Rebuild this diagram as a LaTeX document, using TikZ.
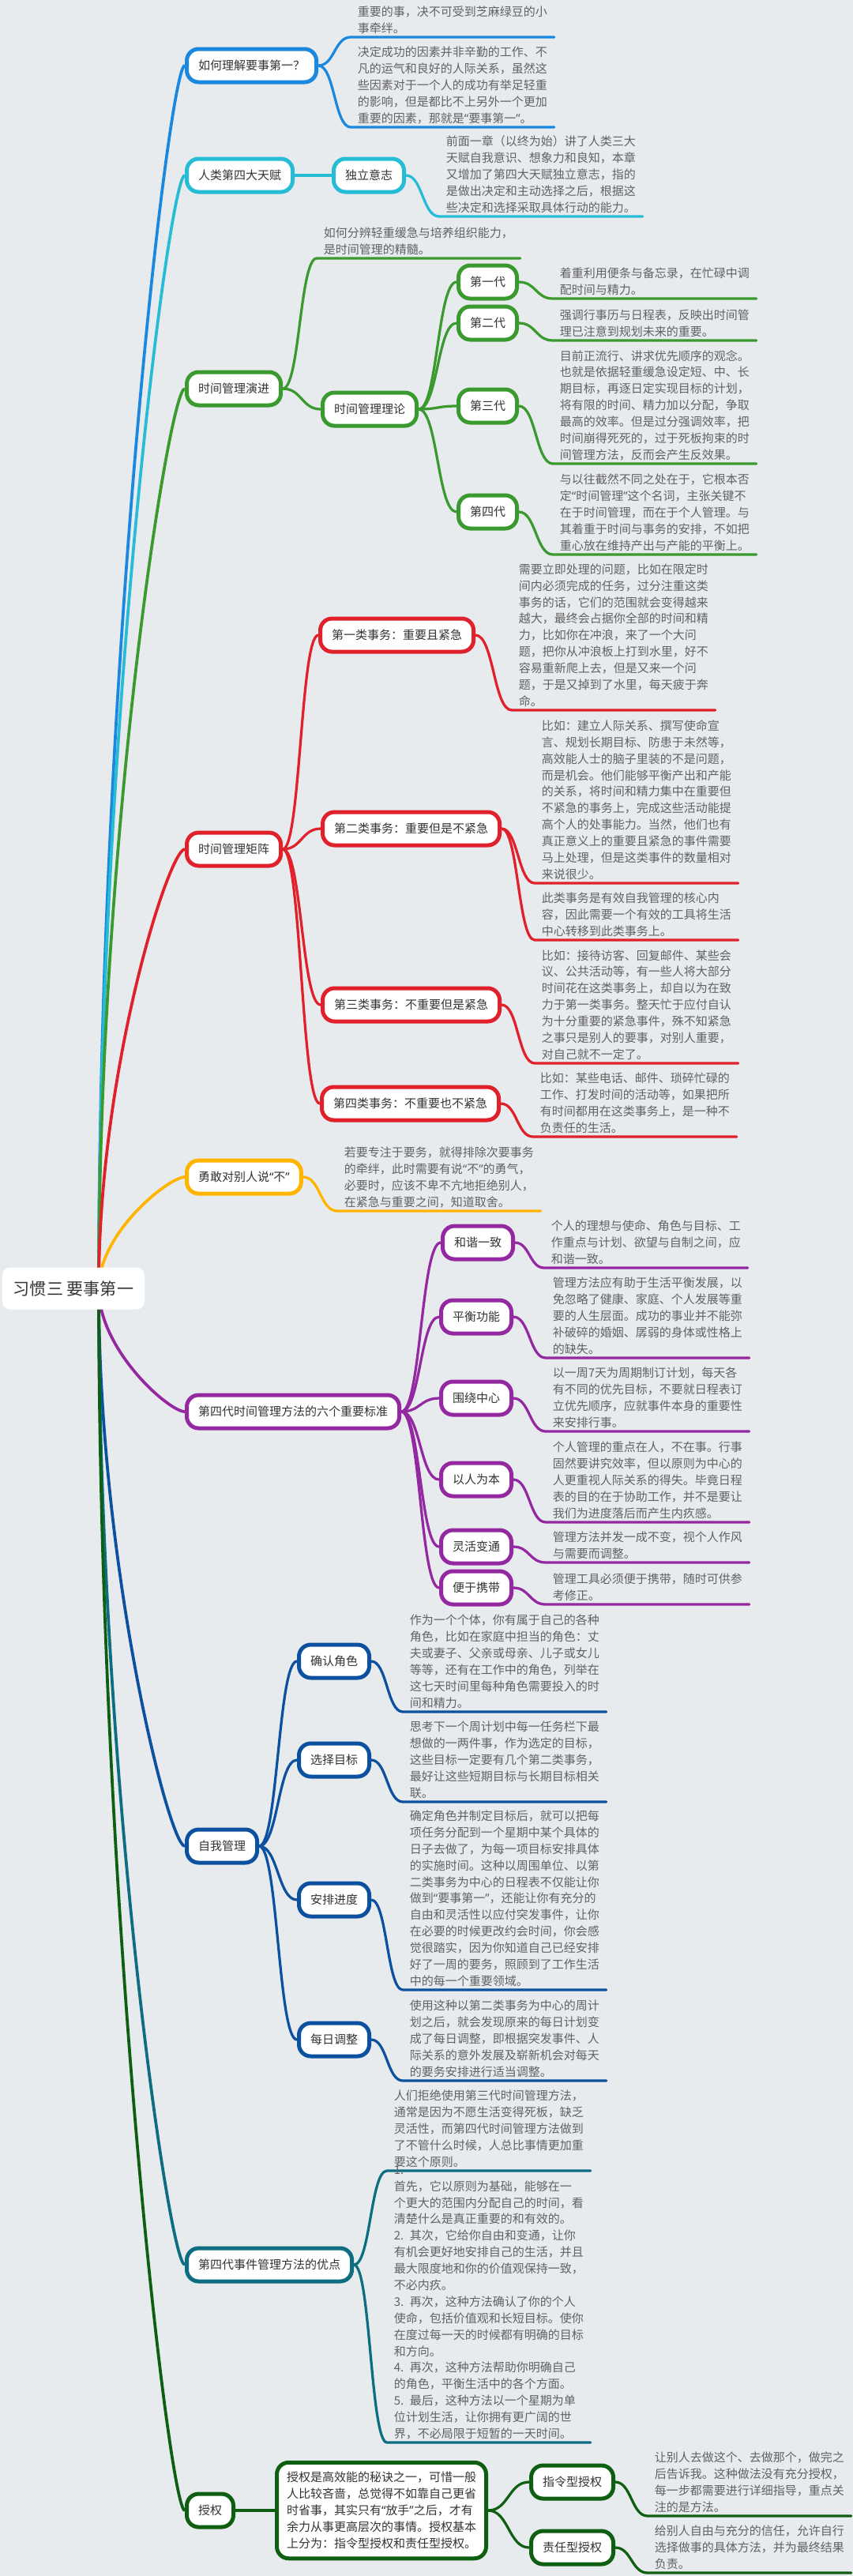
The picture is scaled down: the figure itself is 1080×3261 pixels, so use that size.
\documentclass[tikz,border=0pt]{standalone}
\usepackage{fontspec}
\setmainfont{Noto Sans CJK SC}
\newfontfamily\qfont{Noto Sans}
\usepackage{tikz}
\usetikzlibrary{calc,backgrounds}

\definecolor{paper}{HTML}{E8EBEE}
\definecolor{cAsk}{HTML}{1A88DF}
\definecolor{cGift}{HTML}{27BCD6}
\definecolor{cEvo}{HTML}{3A9A2F}
\definecolor{cMat}{HTML}{E0202A}
\definecolor{cNo}{HTML}{FFB400}
\definecolor{cStd}{HTML}{9428A0}
\definecolor{cSelf}{HTML}{0C51A0}
\definecolor{cMerit}{HTML}{0C6E80}
\definecolor{cDel}{HTML}{0F5F12}

\tikzstyle{rootbox}=[rectangle, rounded corners=2mm, fill=white, minimum width=36mm, minimum height=10.6mm, text=black!80, font=\fontsize{12pt}{14pt}\selectfont]
\tikzstyle{topic}=[rectangle, rounded corners=3mm, fill=white, line width=1mm, inner xsep=2.9mm, inner ysep=0pt, minimum height=8.4mm, text=black!80, font=\fontsize{8.54pt}{11.88pt}\selectfont, anchor=west]
\tikzstyle{annot}=[align=left, text width=48mm, inner xsep=1.7mm, inner ysep=1.06mm, anchor=south west, text=black!62, font=\fontsize{8.54pt}{11.88pt}\selectfont]
\tikzstyle{twig}=[line width=0.65mm, line cap=round, to path={let \p1=(\tikztostart), \p2=(\tikztotarget) in .. controls ({0.5*\x1+0.5*\x2},\y1) and ({0.5*\x1+0.5*\x2},\y2) .. (\tikztotarget)}]
\tikzstyle{trunk}=[line width=0.75mm, to path={let \p1=(\tikztostart), \p2=(\tikztotarget) in .. controls (\x1,{0.5*\y1+0.5*\y2}) and ({\x2-4mm},\y2) .. (\tikztotarget)}]

% narrow quotation marks
\newcommand{\qopen}{{\qfont “}}
\newcommand{\qclose}{{\qfont ”}}

% text above a coloured underline, hung from its parent
\newcommand{\leafnote}[5]
{
  \node[annot] (#2) at (#4) {#5\par\kern-\prevdepth};
  \draw[twig, draw=#3] (#1.east) to (#2.south west) -- (#2.south east);
}

\begin{document}
\begin{tikzpicture}[x=0.2mm, y=-0.2mm]
	\useasboundingbox (0,0) rectangle (1080,3261);

	\node[rootbox] (root) at (93,1631) {习惯三 要事第一};
	\coordinate (rootS) at (125,1631);

	% first level
	\node[topic, draw=cAsk] (ask) at (234,83) {如何理解要事第一？};
	\node[topic, draw=cGift] (gift) at (234,222) {人类第四大天赋};
	\node[topic, draw=cEvo] (evo) at (234,492) {时间管理演进};
	\node[topic, draw=cMat] (matrix) at (234,1075) {时间管理矩阵};
	\node[topic, draw=cNo] (sayno) at (234,1490) {勇敢对别人说\qopen 不\qclose};
	\node[topic, draw=cStd] (std) at (234,1787) {第四代时间管理方法的六个重要标准};
	\node[topic, draw=cSelf] (self) at (234,2337) {自我管理};
	\node[topic, draw=cMerit] (merit) at (234,2867) {第四代事件管理方法的优点};
	\node[topic, draw=cDel] (deleg) at (234,3178) {授权};

	% how to understand
	\leafnote{ask}{a1}{cAsk}{444,47}{重要的事，决不可受到芝麻绿豆的小\\事牵绊。}
	\leafnote{ask}{a2}{cAsk}{444,161}{决定成功的因素并非辛勤的工作、不\\凡的运气和良好的人际关系，虽然这\\些因素对于一个人的成功有举足轻重\\的影响，但是都比不上另外一个更加\\重要的因素，那就是\qopen 要事第一\qclose 。}

	% fourth gift
	\node[topic, draw=cGift] (indep) at (420,222) {独立意志};
	\draw[line width=0.75mm, cGift] (gift.east) -- (indep.west);
	\leafnote{indep}{g1}{cGift}{556,274}{前面一章（以终为始）讲了人类三大\\天赋自我意识、想象力和良知，本章\\又增加了第四大天赋独立意志，指的\\是做出决定和主动选择之后，根据这\\些决定和选择采取具体行动的能力。}

	% evolution
	\leafnote{evo}{e1}{cEvo}{401,327}{如何分辨轻重缓急与培养组织能力，\\是时间管理的精髓。}
	\node[topic, draw=cEvo] (theory) at (406,518) {时间管理理论};
	\draw[twig, cEvo] (evo.east) to (theory.west);
	\node[topic, draw=cEvo] (gen1) at (578,357) {第一代};
	\node[topic, draw=cEvo] (gen2) at (578,409) {第二代};
	\node[topic, draw=cEvo] (gen3) at (578,514) {第三代};
	\node[topic, draw=cEvo] (gen4) at (578,648) {第四代};
	\foreach \g in {gen1,gen2,gen3,gen4}
		\draw[twig, cEvo] (theory.east) to (\g.west);
	\leafnote{gen1}{t1}{cEvo}{700,378}{着重利用便条与备忘录，在忙碌中调\\配时间与精力。}
	\leafnote{gen2}{t2}{cEvo}{700,431}{强调行事历与日程表，反映出时间管\\理已注意到规划未来的重要。}
	\leafnote{gen3}{t3}{cEvo}{700,587}{目前正流行、讲求优先顺序的观念。\\也就是依据轻重缓急设定短、中、长\\期目标，再逐日定实现目标的计划，\\将有限的时间、精力加以分配，争取\\最高的效率。但是过分强调效率，把\\时间崩得死死的，过于死板拘束的时\\间管理方法，反而会产生反效果。}
	\leafnote{gen4}{t4}{cEvo}{700,702}{与以往截然不同之处在于，它根本否\\定\qopen 时间管理\qclose 这个名词，主张关键不\\在于时间管理，而在于个人管理。与\\其着重于时间与事务的安排，不如把\\重心放在维持产出与产能的平衡上。}

	% matrix
	\node[topic, draw=cMat] (q1) at (403,804) {第一类事务：重要且紧急};
	\node[topic, draw=cMat] (q2) at (406,1049) {第二类事务：重要但是不紧急};
	\node[topic, draw=cMat] (q3) at (406,1272) {第三类事务：不重要但是紧急};
	\node[topic, draw=cMat] (q4) at (405,1397) {第四类事务：不重要也不紧急};
	\foreach \q in {q1,q2,q3,q4}
		\draw[twig, cMat] (matrix.east) to (\q.west);
	\leafnote{q1}{m1}{cMat}{648,899}{需要立即处理的问题，比如在限定时\\间内必须完成的任务，过分注重这类\\事务的话，它们的范围就会变得越来\\越大，最终会占据你全部的时间和精\\力，比如你在冲浪，来了一个大问\\题，把你从冲浪板上打到水里，好不\\容易重新爬上去，但是又来一个问\\题，于是又掉到了水里，每天疲于奔\\命。}
	\leafnote{q2}{m2}{cMat}{677,1118}{比如：建立人际关系、撰写使命宣\\言、规划长期目标、防患于未然等，\\高效能人士的脑子里装的不是问题，\\而是机会。他们能够平衡产出和产能\\的关系，将时间和精力集中在重要但\\不紧急的事务上，完成这些活动能提\\高个人的处事能力。当然，他们也有\\真正意义上的重要且紧急的事件需要\\马上处理，但是这类事件的数量相对\\来说很少。}
	\leafnote{q2}{m3}{cMat}{677,1190}{此类事务是有效自我管理的核心内\\容，因此需要一个有效的工具将生活\\中心转移到此类事务上。}
	\leafnote{q3}{m4}{cMat}{677,1346}{比如：接待访客、回复邮件、某些会\\议、公共活动等，有一些人将大部分\\时间花在这类事务上，却自以为在致\\力于第一类事务。整天忙于应付自认\\为十分重要的紧急事件，殊不知紧急\\之事只是别人的要事，对别人重要，\\对自己就不一定了。}
	\leafnote{q4}{m5}{cMat}{675,1439}{比如：某些电话、邮件、琐碎忙碌的\\工作、打发时间的活动等，如果把所\\有时间都用在这类事务上，是一种不\\负责任的生活。}

	% say no
	\leafnote{sayno}{n1}{cNo}{427,1533}{若要专注于要务，就得排除次要事务\\的牵绊，此时需要有说\qopen 不\qclose 的勇气，\\必要时，应该不卑不亢地拒绝别人，\\在紧急与重要之间，知道取舍。}

	% six standards
	\node[topic, draw=cStd] (harm) at (558,1573) {和谐一致};
	\node[topic, draw=cStd] (bal) at (556,1667) {平衡功能};
	\node[topic, draw=cStd] (cen) at (556,1770) {围绕中心};
	\node[topic, draw=cStd] (ppl) at (556,1873) {以人为本};
	\node[topic, draw=cStd] (flex) at (556,1958) {灵活变通};
	\node[topic, draw=cStd] (port) at (556,2010) {便于携带};
	\foreach \s in {harm,bal,cen,ppl,flex,port}
		\draw[twig, cStd] (std.east) to (\s.west);
	\leafnote{harm}{s1}{cStd}{689,1605}{个人的理想与使命、角色与目标、工\\作重点与计划、欲望与自制之间，应\\和谐一致。}
	\leafnote{bal}{s2}{cStd}{691,1719}{管理方法应有助于生活平衡发展，以\\免忽略了健康、家庭、个人发展等重\\要的人生层面。成功的事业并不能弥\\补破碎的婚姻、孱弱的身体或性格上\\的缺失。}
	\leafnote{cen}{s3}{cStd}{691,1812}{以一周7天为周期制订计划，每天各\\有不同的优先目标，不要就日程表订\\立优先顺序，应就事件本身的重要性\\来安排行事。}
	\leafnote{ppl}{s4}{cStd}{691,1927}{个人管理的重点在人，不在事。行事\\固然要讲究效率，但以原则为中心的\\人更重视人际关系的得失。毕竟日程\\表的目的在于协助工作，并不是要让\\我们为进度落后而产生内疚感。}
	\leafnote{flex}{s5}{cStd}{691,1978}{管理方法并发一成不变，视个人作风\\与需要而调整。}
	\leafnote{port}{s6}{cStd}{691,2031}{管理工具必须便于携带，随时可供参\\考修正。}

	% self management
	\node[topic, draw=cSelf] (role) at (376,2103) {确认角色};
	\node[topic, draw=cSelf] (goal) at (376,2228) {选择目标};
	\node[topic, draw=cSelf] (plan) at (376,2405) {安排进度};
	\node[topic, draw=cSelf] (daily) at (376,2582) {每日调整};
	\foreach \r in {role,goal,plan,daily}
		\draw[twig, cSelf] (self.east) to (\r.west);
	\leafnote{role}{r1}{cSelf}{510,2167}{作为一个个体，你有属于自己的各种\\角色，比如在家庭中担当的角色：丈\\夫或妻子、父亲或母亲、儿子或女儿\\等等，还有在工作中的角色，列举在\\这七天时间里每种角色需要投入的时\\间和精力。}
	\leafnote{goal}{r2}{cSelf}{510,2281}{思考下一个周计划中每一任务栏下最\\想做的一两件事，作为选定的目标，\\这些目标一定要有几个第二类事务，\\最好让这些短期目标与长期目标相关\\联。}
	\leafnote{plan}{r3}{cSelf}{510,2519}{确定角色并制定目标后，就可以把每\\项任务分配到一个星期中某个具体的\\日子去做了，为每一项目标安排具体\\的实施时间。这种以周围单位、以第\\二类事务为中心的日程表不仅能让你\\做到\qopen 要事第一\qclose ，还能让你有充分的\\自由和灵活性以应付突发事件，让你\\在必要的时候更改约会时间，你会感\\觉很踏实，因为你知道自己已经安排\\好了一周的要务，照顾到了工作生活\\中的每一个重要领域。}
	\leafnote{daily}{r4}{cSelf}{510,2634}{使用这种以第二类事务为中心的周计\\划之后，就会发现原来的每日计划变\\成了每日调整，即根据突发事件、人\\际关系的意外发展及崭新机会对每天\\的要务安排进行适当调整。}

	% merits
	\leafnote{merit}{p1}{cMerit}{490,2748}{人们拒绝使用第三代时间管理方法，\\通常是因为不愿生活变得死板，缺乏\\灵活性，而第四代时间管理方法做到\\了不管什么时候，人总比事情更加重\\要这个原则。}
	\leafnote{merit}{p2}{cMerit}{490,3092}{1. 首先，它以原则为基础，能够在一\\个更大的范围内分配自己的时间，看\\清楚什么是真正重要的和有效的。\\2. 其次，它给你自由和变通，让你\\有机会更好地安排自己的生活，并且\\最大限度地和你的价值观保持一致，\\不必内疚。\\3. 再次，这种方法确认了你的个人\\使命，包括价值观和长短目标。使你\\在度过每一天的时候都有明确的目标\\和方向。\\4. 再次，这种方法帮助你明确自己\\的角色，平衡生活中的各个方面。\\5. 最后，这种方法以一个星期为单\\位计划生活，让你拥有更广阔的世\\界，不必局限于短暂的一天时间。}

	% delegation
	\node[topic, draw=cDel, align=left, text width=48mm, inner xsep=2.5mm, inner ysep=2.4mm] (dbox) at (348,3178) {授权是高效能的秘诀之一，可惜一般\\人比较吝啬，总觉得不如靠自己更省\\时省事，其实只有\qopen 放手\qclose 之后，才有\\余力从事更高层次的事情。授权基本\\上分为：指令型授权和责任型授权。};
	\draw[line width=0.75mm, cDel] (deleg.east) -- (dbox.west);
	\node[topic, draw=cDel] (order) at (670,3142) {指令型授权};
	\node[topic, draw=cDel] (resp) at (670,3225) {责任型授权};
	\draw[twig, cDel] (dbox.east) to (order.west);
	\draw[twig, cDel] (dbox.east) to (resp.west);
	\leafnote{order}{d1}{cDel}{820,3185}{让别人去做这个、去做那个，做完之\\后告诉我。这种做法没有充分授权，\\每一步都需要进行详细指导，重点关\\注的是方法。}
	\leafnote{resp}{d2}{cDel}{820,3257}{给别人自由与充分的信任，允许自行\\选择做事的具体方法，并为最终结果\\负责。}

	\begin{scope}[on background layer]
		\fill[paper] (0,0) rectangle (1080,3261);
		\foreach \t/\c in {ask/cAsk, gift/cGift, evo/cEvo, matrix/cMat, sayno/cNo, std/cStd, self/cSelf, merit/cMerit, deleg/cDel}
			\draw[trunk, draw=\c] (rootS) to (\t.west);
	\end{scope}
\end{tikzpicture}
\end{document}
